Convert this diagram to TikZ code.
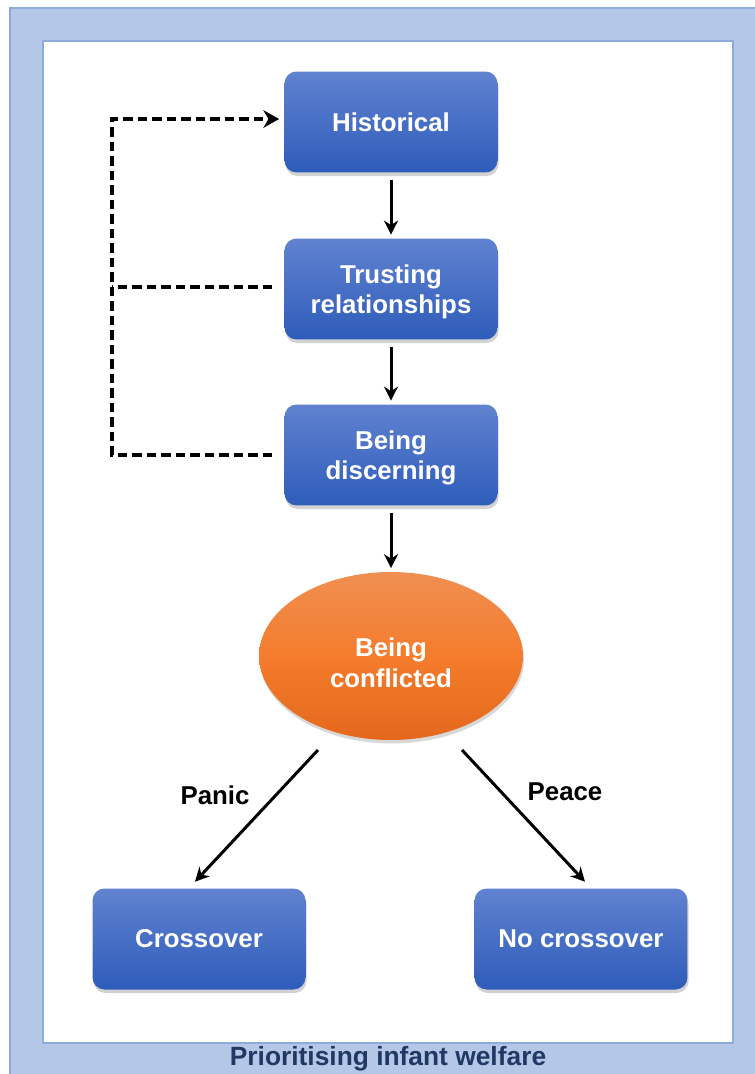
\documentclass[tikz,border=0pt]{standalone}
\usepackage{fontspec}
\setmainfont{Liberation Sans}
\usepackage{tikz}
\usetikzlibrary{shapes,arrows.meta,positioning,shadows}
\definecolor{frameblue}{RGB}{180,199,231}
\definecolor{frameline}{RGB}{143,170,220}
\definecolor{titlenavy}{RGB}{31,56,100}
\definecolor{boxtop}{RGB}{96,130,208}
\definecolor{boxbot}{RGB}{46,92,186}
\definecolor{ovaltop}{RGB}{240,143,82}
\definecolor{ovalmid}{RGB}{244,124,44}
\definecolor{ovalbot}{RGB}{228,104,28}
\tikzstyle{stage} = [rectangle, rounded corners=0.24cm, minimum width=4.26cm, minimum height=2.02cm, top color=boxtop, bottom color=boxbot, text=white, align=center, font=\fontsize{14.7}{17.5}\selectfont\bfseries, drop shadow={shadow xshift=0.6pt, shadow yshift=-2pt, opacity=0.35}]
\tikzstyle{oval} = [ellipse, minimum width=5.28cm, minimum height=3.36cm, top color=ovaltop, bottom color=ovalbot, middle color=ovalmid, text=white, align=center, font=\fontsize{14.7}{17.5}\selectfont\bfseries, drop shadow={shadow xshift=0.6pt, shadow yshift=-2pt, opacity=0.3}]
\tikzstyle{flow} = [draw, line width=1.7pt, -{Stealth[length=8pt, width=8pt]}, shorten >=2pt, shorten <=4pt]
\tikzstyle{fb} = [draw, line width=2.2pt, dash pattern=on 0.19cm off 0.1cm]
\tikzstyle{choice} = [font=\fontsize{14.7}{17.5}\selectfont\bfseries]

\begin{document}
\begin{tikzpicture}[x=0.02cm, y=-0.02cm]
			\useasboundingbox (0,0) rectangle (754,1074);
			\fill [frameblue] (10,8) rectangle (770,1090);
			\draw [frameline, line width=0.8pt] (10,1090) -- (10,8) -- (770,8);
			\filldraw [fill=white, draw=frameline, line width=0.8pt] (43,41) rectangle (733,1043);
			\node [text=titlenavy, font=\fontsize{15}{17}\selectfont\bfseries] (title) at (388,1059) {Prioritising infant welfare};

			\node [stage] (hist) at (391,122) {Historical};
			\node [stage] (trust) at (391,289) {\rule{0pt}{14pt}Trusting\\relationships};
			\node [stage] (disc) at (391,455) {\rule{0pt}{14pt}Being\\discerning};
			\node [oval] (confl) at (391,656) {\rule{0pt}{18pt}Being\\conflicted};
			\node [stage] (cross) at (199,939) {Crossover};
			\node [stage] (nocross) at (581,939) {No crossover};

			\coordinate (fbx) at (112,0);
			\coordinate (panic) at (318,750);
			\coordinate (peace) at (462,750);

			\path [flow] (hist) -- (trust);
			\path [flow] (trust) -- (disc);
			\path [flow] (disc) -- (confl);
			\path [flow, shorten <=0pt, shorten >=5pt] (panic) -- ([xshift=-0.2cm]cross.north);
			\path [flow, shorten <=0pt, shorten >=5pt] (peace) -- ([xshift=0.2cm]nocross.north);

			\node [choice] (panictext) at (215,795) {Panic};
			\node [choice] (peacetext) at (565,792) {Peace};

			\path [fb, -{Stealth[length=9pt, width=10pt]}] ([xshift=-0.24cm]disc.west) -- (fbx |- disc.west) -- ([yshift=0.06cm]fbx |- hist.west) -- ([xshift=-0.1cm, yshift=0.06cm]hist.west);
			\path [fb] ([xshift=-0.24cm, yshift=0.04cm]trust.west) -- ([yshift=0.04cm]fbx |- trust.west);
		\end{tikzpicture}
\end{document}
